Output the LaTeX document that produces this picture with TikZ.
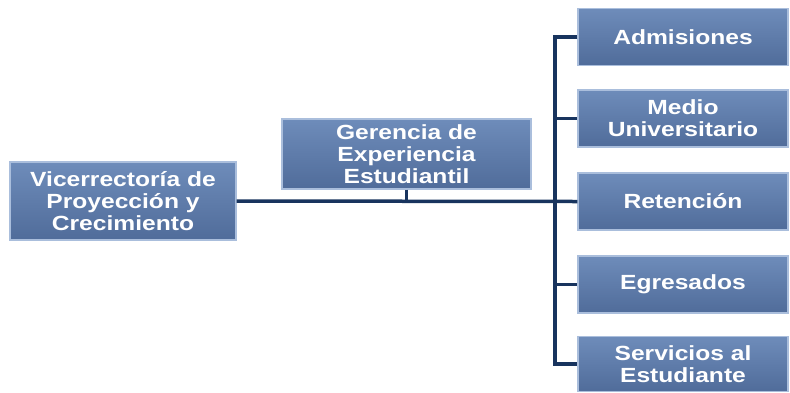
\documentclass[tikz,border=0pt]{standalone}
\usepackage{fontspec}
\newfontfamily\boxfont[FakeStretch=1.2]{Liberation Sans}
\usetikzlibrary{positioning}
\definecolor{boxtop}{RGB}{110,140,186}
\definecolor{boxbot}{RGB}{80,108,154}
\definecolor{boxrim}{RGB}{170,190,220}
\definecolor{navy}{RGB}{24,52,94}

\begin{document}
\begin{tikzpicture}[x=1pt, y=-1pt,
  unit/.style = {draw=boxrim, line width=1.2pt, top color=boxtop, bottom color=boxbot,
    text=white, align=center, inner sep=0pt,
    font=\boxfont\bfseries\fontsize{20.5}{22}\selectfont},
  link/.style = {draw=navy, line width=3.5pt}]
\useasboundingbox (0,0) rectangle (790,392);
\node[unit, minimum width=226pt, minimum height=78pt](vice) at (123,201){Vicerrectoría de\\Proyección y\\Crecimiento};
\node[unit, minimum width=249pt, minimum height=70pt](ger) at (406.5,154){Gerencia de\\Experiencia\\Estudiantil};
\node[unit, minimum width=210pt, minimum height=57pt](adm) at (683,37){Admisiones};
\node[unit, minimum width=210pt, minimum height=57pt](med) at (683,118.5){Medio\\Universitario};
\node[unit, minimum width=210pt, minimum height=57pt](ret) at (683,201.5){Retención};
\node[unit, minimum width=210pt, minimum height=57pt](egr) at (683,284.5){Egresados};
\node[unit, minimum width=210pt, minimum height=55pt](ser) at (683,364){Servicios al\\Estudiante};
\coordinate (top) at (555,37);
\coordinate (bot) at (555,364);
\draw[link] (vice.east) -- (ret.west);
\draw[link] (ger.south) -- (ger.south |- vice.east);
\draw[link] (adm.west) -- (top) -- (bot) -- (ser.west);
\draw[link] (top |- med.west) -- (med.west);
\draw[link] (top |- egr.west) -- (egr.west);
\end{tikzpicture}
\end{document}
